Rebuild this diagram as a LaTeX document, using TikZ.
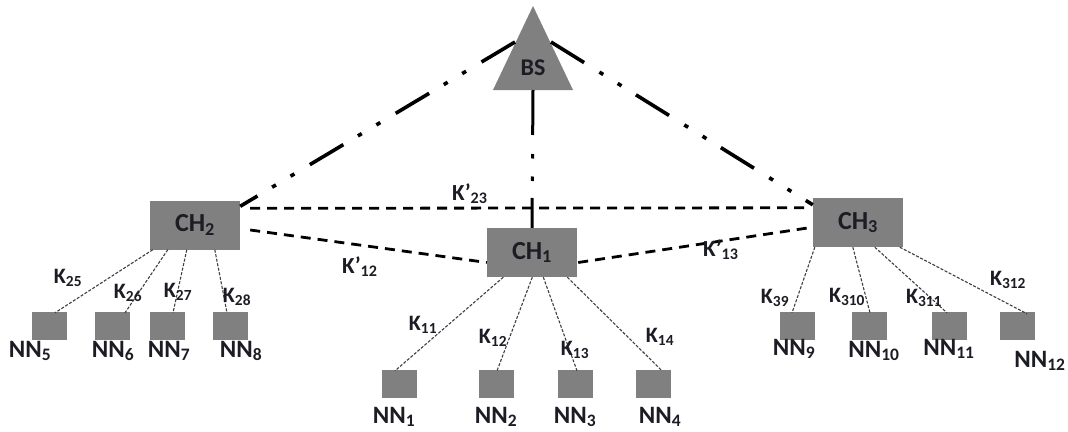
\documentclass[tikz,border=0pt]{standalone}
\usepackage{fontspec}
\setmainfont{Carlito}
\usetikzlibrary{calc}
\definecolor{boxgray}{RGB}{128,128,128}
\definecolor{ink}{RGB}{28,28,36}
\tikzset{
  head/.style={rectangle, fill=boxgray, minimum width=90pt, minimum height=49pt,
    inner sep=0pt, text=ink, font=\bfseries\fontsize{26}{26}\selectfont},
  member/.style={rectangle, fill=boxgray, minimum width=35pt, minimum height=28pt, inner sep=0pt},
  memberlabel/.style={anchor=base, inner sep=0pt, text=ink, font=\bfseries\fontsize{25}{25}\selectfont},
  keylabel/.style={anchor=base, inner sep=0pt, text=ink, font=\bfseries\fontsize{22}{22}\selectfont},
  peerkey/.style={anchor=base west, inner sep=0pt, text=ink, font=\bfseries\fontsize{23}{23}\selectfont},
  uplink/.style={line width=3.6pt, dash pattern=on 39pt off 18pt on 4.5pt off 17pt on 4.5pt off 17pt},
  peerlink/.style={line width=2.8pt, dash pattern=on 10pt off 7pt},
  memberlink/.style={line width=1.1pt, draw=ink!85, dash pattern=on 3pt off 1.6pt},
}
\begin{document}
\begin{tikzpicture}[x=1pt,y=-1pt]
\useasboundingbox (0,0) rectangle (1068,431);

% base station
\fill[boxgray] (533,6) -- (573,90) -- (493,90) -- cycle;
\node[anchor=base, inner sep=0pt, text=ink, font=\bfseries\fontsize{24}{24}\selectfont] (bs) at (533,75) {BS};
\coordinate (bsL) at (515,42);
\coordinate (bsR) at (551,42);
\coordinate (bsB) at (533,90);

% cluster heads
\node[head] (ch2) at (195,225) {CH\textsubscript{2}};
\node[head] (ch1) at (532,252.5) {CH\textsubscript{1}};
\node[head] (ch3) at (858,222.5) {CH\textsubscript{3}};

% member nodes
\node[member] (nn5) at (49.5,326) {};
\node[member] (nn6) at (112.5,326) {};
\node[member] (nn7) at (167.5,326) {};
\node[member] (nn8) at (230.5,326) {};
\node[member] (nn1) at (399.5,384) {};
\node[member] (nn2) at (496,384) {};
\node[member] (nn3) at (575,384) {};
\node[member] (nn4) at (653,384) {};
\node[member] (nn9) at (797.5,326) {};
\node[member] (nn10) at (869.5,326) {};
\node[member] (nn11) at (949,326) {};
\node[member] (nn12) at (1017.5,326) {};

% member labels
\node[memberlabel] (l5) at (30,357) {NN\textsubscript{5}};
\node[memberlabel] (l6) at (113,357) {NN\textsubscript{6}};
\node[memberlabel] (l7) at (169,357) {NN\textsubscript{7}};
\node[memberlabel] (l8) at (241,357) {NN\textsubscript{8}};
\node[memberlabel] (l1) at (394,423) {NN\textsubscript{1}};
\node[memberlabel] (l2) at (496,423) {NN\textsubscript{2}};
\node[memberlabel] (l3) at (575,423) {NN\textsubscript{3}};
\node[memberlabel] (l4) at (660,423) {NN\textsubscript{4}};
\node[memberlabel] (l9) at (794,355) {NN\textsubscript{9}};
\node[memberlabel] (l10) at (874,357) {NN\textsubscript{10}};
\node[memberlabel] (l11) at (949,355) {NN\textsubscript{11}};
\node[memberlabel] (l12) at (1040,367) {NN\textsubscript{12}};

% links to the base station
\draw[uplink] (bsL) -- ($(ch2.north east)+(0,6)$);
\draw[uplink] (bsR) -- ($(ch3.north west)+(0,7)$);
\draw[line width=3pt, dash pattern=on 45pt off 19pt on 4.5pt off 18pt on 4.5pt off 17pt on 60pt] (bsB) -- (ch1.north);

% links between cluster heads
\draw[peerlink] ($(ch2.north east)+(10,8)$) -- ($(ch3.north west)+(-2,10)$);
\draw[peerlink] ($(ch2.east)+(10,5)$) -- ($(ch1.west)+(0,10)$);
\draw[peerlink] ($(ch1.east)+(1,10)$) -- ($(ch3.west)+(-2,5)$);

% links from heads to members
\draw[memberlink] ($(ch2.south west)+(3,0)$) -- ($(nn5.north)+(5.5,1)$);
\draw[memberlink] ($(ch2.south west)+(18,0)$) -- ($(nn6.north)+(12.5,1)$);
\draw[memberlink] ($(ch2.south west)+(37,0)$) -- ($(nn7.north)+(5.5,1)$);
\draw[memberlink] ($(ch2.south west)+(65,0)$) -- ($(nn8.north)+(-3.5,1)$);
\draw[memberlink] ($(ch1.south west)+(16.5,0)$) -- ($(nn1.north)+(-4.5,1)$);
\draw[memberlink] ($(ch1.south west)+(45.5,0)$) -- ($(nn2.north)+(1,1)$);
\draw[memberlink] ($(ch1.south west)+(56.5,0)$) -- ($(nn3.north)+(2,1)$);
\draw[memberlink] ($(ch1.south west)+(80.5,0)$) -- ($(nn4.north)+(9,1)$);
\draw[memberlink] ($(ch3.south west)+(2,0)$) -- ($(nn9.north)+(-5.5,1)$);
\draw[memberlink] ($(ch3.south west)+(40,0)$) -- ($(nn10.north)+(0.5,1)$);
\draw[memberlink] ($(ch3.south west)+(62,0)$) -- ($(nn11.north)+(-2,1)$);
\draw[memberlink] ($(ch3.south west)+(87,0)$) -- ($(nn12.north)+(9.5,2)$);

% key labels
\node[keylabel] (k25) at (68,283) {K\textsubscript{25}};
\node[keylabel] (k26) at (128,298) {K\textsubscript{26}};
\node[keylabel] (k27) at (178,297) {K\textsubscript{27}};
\node[keylabel] (k28) at (237,302) {K\textsubscript{28}};
\node[keylabel] (k11) at (423,330) {K\textsubscript{11}};
\node[keylabel] (k12) at (493,343) {K\textsubscript{12}};
\node[keylabel] (k13) at (575,355) {K\textsubscript{13}};
\node[keylabel] (k14) at (660,342) {K\textsubscript{14}};
\node[keylabel] (k39) at (775,303) {K\textsubscript{39}};
\node[keylabel] (k310) at (847,302) {K\textsubscript{310}};
\node[keylabel] (k311) at (924,303) {K\textsubscript{311}};
\node[keylabel] (k312) at (1008,285) {K\textsubscript{312}};
\node[peerkey] (p12) at (342,273) {K’\textsubscript{12}};
\node[peerkey] (p23) at (452,200) {K’\textsubscript{23}};
\node[peerkey] (p13) at (703,256) {K’\textsubscript{13}};
\end{tikzpicture}
\end{document}
